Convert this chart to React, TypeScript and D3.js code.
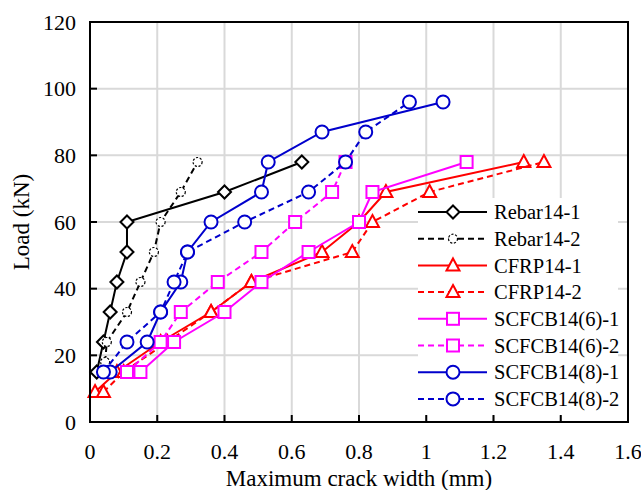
import React from "react";
import * as d3 from "d3";

const xTicks = [0, 0.2, 0.4, 0.6, 0.8, 1, 1.2, 1.4, 1.6];
const yTicks = [0, 20, 40, 60, 80, 100, 120];

const rebar1 = [[0.02, 15], [0.04, 24], [0.06, 33], [0.08, 42], [0.11, 51], [0.11, 60], [0.4, 69], [0.63, 78]];
const rebar2 = [[0.045, 18], [0.05, 24], [0.11, 33], [0.15, 42], [0.19, 51], [0.21, 60], [0.27, 69], [0.32, 78]];
const cfrp1 = [[0.015, 9], [0.08, 15], [0.21, 24], [0.36, 33], [0.48, 42], [0.69, 51], [0.8, 60], [0.88, 69], [1.29, 78]];
const cfrp2 = [[0.04, 9], [0.1, 15], [0.23, 24], [0.36, 33], [0.48, 42], [0.78, 51], [0.84, 60], [1.01, 69], [1.35, 78]];
const scf6a = [[0.15, 15], [0.25, 24], [0.4, 33], [0.51, 42], [0.65, 51], [0.8, 60], [0.84, 69], [1.12, 78]];
const scf6b = [[0.11, 15], [0.21, 24], [0.27, 33], [0.38, 42], [0.51, 51], [0.61, 60], [0.72, 69], [0.76, 78]];
const scf8a = [[0.06, 15], [0.17, 24], [0.21, 33], [0.27, 42], [0.29, 51], [0.36, 60], [0.51, 69], [0.53, 78], [0.69, 87], [1.05, 96]];
const scf8b = [[0.04, 15], [0.11, 24], [0.21, 33], [0.25, 42], [0.29, 51], [0.46, 60], [0.65, 69], [0.76, 78], [0.82, 87], [0.95, 96]];

const series = [
  { name: "Rebar14-1", data: rebar1, color: "#000000", dash: false, marker: "diamond" },
  { name: "Rebar14-2", data: rebar2, color: "#000000", dash: true, marker: "dcircle" },
  { name: "CFRP14-1", data: cfrp1, color: "#ff0000", dash: false, marker: "triangle" },
  { name: "CFRP14-2", data: cfrp2, color: "#ff0000", dash: true, marker: "triangle" },
  { name: "SCFCB14(6)-1", data: scf6a, color: "#ff00ff", dash: false, marker: "square" },
  { name: "SCFCB14(6)-2", data: scf6b, color: "#ff00ff", dash: true, marker: "square" },
  { name: "SCFCB14(8)-1", data: scf8a, color: "#0000cc", dash: false, marker: "circle" },
  { name: "SCFCB14(8)-2", data: scf8b, color: "#0000cc", dash: true, marker: "circle" },
];

const font = '"Liberation Serif", "Times New Roman", Times, serif';

const Marker = ({ type, x, y, color }: { type: string; x: number; y: number; color: string }) => {
  if (type === "diamond")
    return <path d={`M${x},${y - 6.5}L${x + 6.5},${y}L${x},${y + 6.5}L${x - 6.5},${y}Z`} fill="#fff" stroke={color} strokeWidth={2} />;
  if (type === "dcircle")
    return <circle cx={x} cy={y} r={4.5} fill="#fff" stroke={color} strokeWidth={1.2} strokeDasharray="2.2,1.6" />;
  if (type === "triangle")
    return <path d={`M${x},${y - 7}L${x + 6.5},${y + 5}L${x - 6.5},${y + 5}Z`} fill="#fff" stroke={color} strokeWidth={2} />;
  if (type === "square")
    return <rect x={x - 6} y={y - 6} width={12} height={12} fill="#fff" stroke={color} strokeWidth={2} />;
  return <circle cx={x} cy={y} r={6.5} fill="#fff" stroke={color} strokeWidth={2} />;
};

export default function App() {
  const left = 90, right = 628, top = 22, bottom = 422;
  const x = d3.scaleLinear().domain([0, 1.6]).range([left, right]);
  const y = d3.scaleLinear().domain([0, 120]).range([bottom, top]);
  const line = d3.line<number[]>().x(d => x(d[0])).y(d => y(d[1]));

  const lg = { x: 418, y: 198, w: 200, h: 218 };

  return (
    <svg width={641} height={490} fontFamily={font} style={{ position: "absolute", left: 0, top: 0, background: "#fff" }}>
      <rect width={641} height={490} fill="#fff" />
      {xTicks.slice(1, -1).map(t => (
        <line key={"gx" + t} x1={x(t)} x2={x(t)} y1={top} y2={bottom} stroke="#d9d9d9" strokeWidth={2} />
      ))}
      {yTicks.slice(1, -1).map(t => (
        <line key={"gy" + t} x1={left} x2={right} y1={y(t)} y2={y(t)} stroke="#d9d9d9" strokeWidth={2} />
      ))}
      {series.map(s => (
        <g key={s.name}>
          <path d={line(s.data) || ""} fill="none" stroke={s.color} strokeWidth={2} strokeDasharray={s.dash ? "6,4" : undefined} />
          {s.data.map((d, i) => (
            <Marker key={i} type={s.marker} x={x(d[0])} y={y(d[1])} color={s.color} />
          ))}
        </g>
      ))}
      <rect x={lg.x} y={lg.y} width={lg.w} height={lg.h} fill="#fff" />
      {series.map((s, i) => {
        const ly = 212 + i * 26.7;
        return (
          <g key={"lg" + s.name}>
            <line x1={418} x2={487} y1={ly} y2={ly} stroke={s.color} strokeWidth={2} strokeDasharray={s.dash ? "6,4" : undefined} />
            <Marker type={s.marker} x={453} y={ly} color={s.color} />
            <text x={494} y={ly} dy="0.35em" fontSize={20.5} fill="#000">{s.name}</text>
          </g>
        );
      })}
      {xTicks.slice(1, -1).map(t => (
        <line key={"tx" + t} x1={x(t)} x2={x(t)} y1={bottom} y2={bottom - 7} stroke="#000" strokeWidth={2} />
      ))}
      {yTicks.slice(1, -1).map(t => (
        <line key={"ty" + t} x1={left} x2={left + 7} y1={y(t)} y2={y(t)} stroke="#000" strokeWidth={2} />
      ))}
      <rect x={left} y={top} width={right - left} height={bottom - top} fill="none" stroke="#000" strokeWidth={2} />
      {xTicks.map(t => (
        <text key={"lx" + t} x={x(t)} y={bottom + 37} textAnchor="middle" fontSize={22} fill="#000">{String(t)}</text>
      ))}
      {yTicks.map(t => (
        <text key={"ly" + t} x={left - 14} y={y(t)} dy="0.35em" textAnchor="end" fontSize={22} fill="#000">{String(t)}</text>
      ))}
      <text x={(left + right) / 2} y={486} textAnchor="middle" fontSize={23} fill="#000">Maximum crack width (mm)</text>
      <text transform={`translate(29,${(top + bottom) / 2}) rotate(-90)`} textAnchor="middle" fontSize={23} fill="#000">Load (kN)</text>
    </svg>
  );
}
